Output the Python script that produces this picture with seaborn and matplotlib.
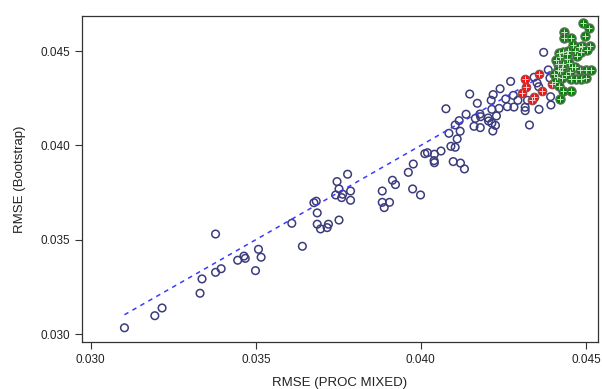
import numpy as np
import pandas as pd
import matplotlib
matplotlib.use("Agg")
import matplotlib.pyplot as plt
import seaborn as sns

# open circles (all other simulations)
x_open = [0.03102, 0.03194, 0.03216, 0.03331, 0.03337, 0.03378, 0.03378, 0.03395, 0.03445, 0.03464,
          0.03468, 0.03499, 0.03508, 0.03516, 0.03609, 0.03641, 0.03676, 0.03683, 0.03686, 0.03686,
          0.03696, 0.03716, 0.03720, 0.03752, 0.03746, 0.03752, 0.03742, 0.03760, 0.03763, 0.03778,
          0.03787, 0.03787, 0.03883, 0.03883, 0.03889, 0.03905, 0.03914, 0.03923, 0.03962, 0.03977,
          0.03975, 0.03999, 0.04012, 0.04020, 0.04041, 0.04040, 0.04041, 0.04061, 0.04085, 0.04091,
          0.04104, 0.04098, 0.04110, 0.04119, 0.04104, 0.04116, 0.04120, 0.04132, 0.04076, 0.04137,
          0.04148, 0.04161, 0.04165, 0.04171, 0.04179, 0.04181, 0.04180, 0.04204, 0.04205, 0.04215,
          0.04213, 0.04219, 0.04218, 0.04226, 0.04229, 0.04215, 0.04237, 0.04240, 0.04257, 0.04262,
          0.04272, 0.04280, 0.04282, 0.04294, 0.04316, 0.04316, 0.04323, 0.04329, 0.04372, 0.04386,
          0.04343, 0.04352, 0.04391, 0.04357, 0.04358, 0.04393, 0.04394]
y_open = [0.03033, 0.03097, 0.03138, 0.03216, 0.03292, 0.03530, 0.03327, 0.03346, 0.03391, 0.03413,
          0.03401, 0.03336, 0.03449, 0.03407, 0.03587, 0.03465, 0.03696, 0.03704, 0.03642, 0.03582,
          0.03557, 0.03564, 0.03582, 0.03604, 0.03808, 0.03769, 0.03737, 0.03723, 0.03741, 0.03847,
          0.03758, 0.03709, 0.03758, 0.03698, 0.03670, 0.03698, 0.03815, 0.03792, 0.03857, 0.03901,
          0.03769, 0.03737, 0.03956, 0.03961, 0.03953, 0.03919, 0.03908, 0.03970, 0.04064, 0.03995,
          0.03990, 0.03914, 0.04034, 0.04075, 0.04108, 0.04131, 0.03906, 0.03875, 0.04194, 0.04165,
          0.04272, 0.04101, 0.04143, 0.04223, 0.04166, 0.04152, 0.04094, 0.04145, 0.04129, 0.04118,
          0.04239, 0.04269, 0.04076, 0.04106, 0.04156, 0.04191, 0.04196, 0.04300, 0.04246, 0.04205,
          0.04339, 0.04265, 0.04203, 0.04239, 0.04202, 0.04184, 0.04239, 0.04108, 0.04493, 0.04400,
          0.04361, 0.04331, 0.04357, 0.04311, 0.04191, 0.04258, 0.04214]

# red markers
x_red = [0.04316, 0.04358, 0.04319, 0.04307, 0.04337, 0.04344, 0.04368, 0.04396]
y_red = [0.04352, 0.04377, 0.04311, 0.04279, 0.04241, 0.04259, 0.04290, 0.04324]

# green markers
x_green = [0.04492, 0.04508, 0.04435, 0.04498, 0.04433, 0.04454, 0.04460, 0.04488, 0.04512, 0.04480,
           0.04417, 0.04431, 0.04446, 0.04467, 0.04485, 0.04502, 0.04421, 0.04442, 0.04472, 0.04415,
           0.04431, 0.04449, 0.04466, 0.04482, 0.04500, 0.04516, 0.04421, 0.04452, 0.04411, 0.04427,
           0.04454, 0.04470, 0.04486, 0.04500, 0.04417, 0.04431, 0.04454, 0.04423, 0.04403, 0.04406,
           0.04442, 0.04457, 0.04409, 0.04427, 0.04439, 0.04415]
y_green = [0.04647, 0.04622, 0.04599, 0.04578, 0.04569, 0.04569, 0.04533, 0.04528, 0.04525, 0.04520,
           0.04488, 0.04493, 0.04499, 0.04502, 0.04493, 0.04505, 0.04467, 0.04458, 0.04476, 0.04432,
           0.04432, 0.04435, 0.04414, 0.04400, 0.04400, 0.04400, 0.04396, 0.04387, 0.04361, 0.04357,
           0.04352, 0.04352, 0.04352, 0.04357, 0.04316, 0.04287, 0.04287, 0.04244, 0.04378, 0.04334,
           0.04484, 0.04414, 0.04453, 0.04411, 0.04373, 0.04400]

ticks = [0.030, 0.035, 0.040, 0.045]

df_open = pd.DataFrame({"x": x_open, "y": y_open})
df_red = pd.DataFrame({"x": x_red, "y": y_red})
df_green = pd.DataFrame({"x": x_green, "y": y_green})

sns.set_style("ticks")
plt.rcParams['font.family'] = ['Liberation Sans', 'DejaVu Sans']

fig = plt.figure(figsize=(6.02, 3.89), dpi=100)
ax = fig.add_axes([0.136, 0.121, 0.857, 0.838])

sns.scatterplot(data=df_open, x="x", y="y", ax=ax, marker="o", s=30,
                facecolor="none", edgecolor="#3c3c7c", linewidth=1.1, zorder=3)

# identity line over the data range
all_x = x_open + x_red + x_green
lo, hi = min(all_x), max(all_x)
ax.plot([lo, hi], [lo, hi], color="#3b3bff", lw=1.1, ls=(0, (3, 3)), zorder=4)

sns.scatterplot(data=df_red, x="x", y="y", ax=ax, marker="o", s=38,
                color="#ff1010", edgecolor="#8a5050", linewidth=0.8, zorder=5)
sns.scatterplot(data=df_red, x="x", y="y", ax=ax, marker="+", s=14,
                color="#ffd0d0", linewidth=0.7, zorder=6)
sns.scatterplot(data=df_green, x="x", y="y", ax=ax, marker="o", s=44,
                color="#0a800a", edgecolor="#5a745a", linewidth=0.9, zorder=5)
sns.scatterplot(data=df_green, x="x", y="y", ax=ax, marker="+", s=14,
                color="#c8e8c8", linewidth=0.7, zorder=6)

ax.set_xlim(0.02973, 0.04536)
ax.set_ylim(0.02958, 0.04686)
ax.set_xticks(ticks)
ax.set_yticks(ticks)
ax.set_xticklabels([f"{t:.3f}" for t in ticks])
ax.set_yticklabels([f"{t:.3f}" for t in ticks])
ax.tick_params(labelsize=8.5, length=5, width=0.8, color="#333333", labelcolor="#222222")
for sp in ax.spines.values():
    sp.set_color("#333333")
    sp.set_linewidth(0.9)

ax.set_xlabel("RMSE (PROC MIXED)", fontsize=9.5, color="#222222", labelpad=8)
ax.set_ylabel("RMSE (Bootstrap)", fontsize=9.5, color="#222222", labelpad=10)

fig.savefig("out.png", dpi=100)
